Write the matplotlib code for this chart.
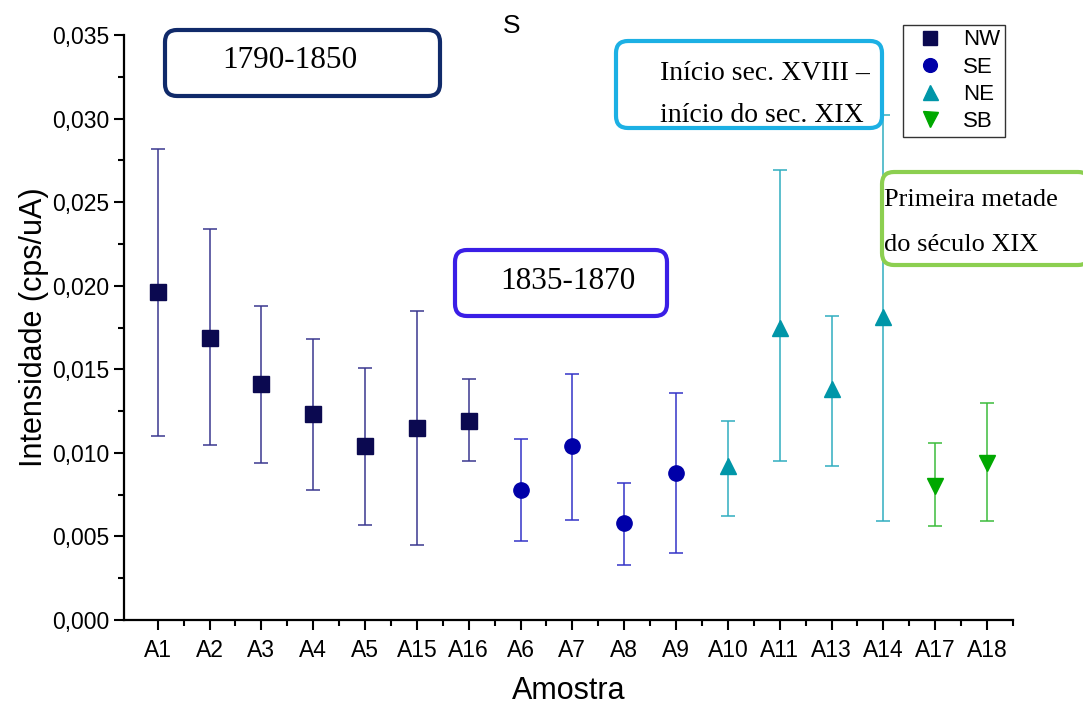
import matplotlib
matplotlib.use("Agg")
import matplotlib.pyplot as plt
import numpy as np
from matplotlib.patches import FancyBboxPatch
from matplotlib.transforms import IdentityTransform
from matplotlib.ticker import FixedLocator, FuncFormatter, MultipleLocator

plt.rcParams['font.family'] = ['Liberation Sans', 'DejaVu Sans']

# ---- data ----
samples = ["A1", "A2", "A3", "A4", "A5", "A15", "A16", "A6", "A7", "A8", "A9",
           "A10", "A11", "A13", "A14", "A17", "A18"]
groups = ["NW", "NW", "NW", "NW", "NW", "NW", "NW", "SE", "SE", "SE", "SE",
          "NE", "NE", "NE", "NE", "SB", "SB"]
means = [0.0196, 0.0169, 0.0141, 0.0123, 0.0104, 0.0115, 0.0119, 0.0078, 0.0104, 0.0058, 0.0088,
         0.0092, 0.0175, 0.0138, 0.0181, 0.0080, 0.0094]
upper = [0.0282, 0.0234, 0.0188, 0.0168, 0.0151, 0.0185, 0.0144, 0.0108, 0.0147, 0.0082, 0.0136,
         0.0119, 0.0269, 0.0182, 0.0302, 0.0106, 0.0130]
lower = [0.0110, 0.0105, 0.0094, 0.0078, 0.0057, 0.0045, 0.0095, 0.0047, 0.0060, 0.0033, 0.0040,
         0.0062, 0.0095, 0.0092, 0.0059, 0.0056, 0.0059]

group_names = ["NW", "SE", "NE", "SB"]
group_markers = {"NW": "s", "SE": "o", "NE": "^", "SB": "v"}
group_colors = {"NW": "#0b0950", "SE": "#0000a8", "NE": "#0096a8", "SB": "#00a800"}
err_colors = {"NW": "#3a3890", "SE": "#3434c8", "NE": "#30aec0", "SB": "#3cbc3c"}
marker_sizes = {"NW": 11, "SE": 11, "NE": 12, "SB": 12}

W, H = 1083, 709
fig = plt.figure(figsize=(W / 100, H / 100), dpi=100)
ax = fig.add_axes([124 / W, 1 - 620 / H, (1013 - 124) / W, (620 - 35) / H])

x = np.arange(len(samples))
means_a = np.array(means)
up_a = np.array(upper)
lo_a = np.array(lower)
for g in group_names:
    idx = [i for i, gg in enumerate(groups) if gg == g]
    ax.errorbar(x[idx], means_a[idx],
                yerr=[means_a[idx] - lo_a[idx], up_a[idx] - means_a[idx]],
                fmt='none', ecolor=err_colors[g], elinewidth=1.1, capsize=5, capthick=1.1, zorder=2)
    ax.plot(x[idx], means_a[idx], linestyle='none', marker=group_markers[g],
            markersize=marker_sizes[g], color=group_colors[g], markeredgecolor=group_colors[g],
            label=g, zorder=3)

ax.set_xlim(-0.65, 16.5)
ax.set_ylim(0, 0.035)
ax.set_xticks(x)
ax.set_xticklabels(samples)
ax.xaxis.set_minor_locator(FixedLocator(np.arange(0.5, 16.6, 1.0)))
ax.yaxis.set_major_locator(MultipleLocator(0.005))
ax.yaxis.set_minor_locator(MultipleLocator(0.0025))
ax.yaxis.set_major_formatter(FuncFormatter(lambda v, p: f"{v:.3f}".replace(".", ",")))
ax.tick_params(axis='both', which='major', direction='out', length=7, width=1.5, labelsize=16.5)
ax.tick_params(axis='x', which='major', pad=7)
ax.tick_params(axis='both', which='minor', direction='out', length=4, width=1.5)
for s in ['top', 'right']:
    ax.spines[s].set_visible(False)
for s in ['left', 'bottom']:
    ax.spines[s].set_linewidth(1.6)

ax.set_ylabel("Intensidade (cps/uA)", fontsize=22, labelpad=2)
ax.set_xlabel("Amostra", fontsize=22, labelpad=10)
fig.text(512 / W, 1 - 26 / H, "S", fontsize=19, ha='center', va='center')

# ---- annotation boxes in pixel coordinates ----
ident = IdentityTransform()

def box(x0, y0, x1, y1, color, lw=3.0, r=12):
    p = FancyBboxPatch((x0, H - y1), x1 - x0, y1 - y0,
                       boxstyle=f"round,pad=0,rounding_size={r}",
                       transform=ident, facecolor='white', edgecolor=color,
                       linewidth=lw, zorder=5)
    fig.patches.append(p)

def ptext(xp, yp, s, size, ha='left'):
    fig.text(xp / W, 1 - yp / H, s, fontsize=size, family=['Liberation Serif', 'DejaVu Serif'],
             ha=ha, va='center', zorder=6)

box(165, 30, 440, 96, "#102a6a")
ptext(290, 61, "1790-1850", 22.5, ha='center')

box(455, 250, 667, 316, "#3a1ee6")
ptext(568, 281, "1835-1870", 22.5, ha='center')

box(616, 41, 882, 128, "#1cb0e4")
ptext(660, 73, "Início sec. XVIII –", 20)
ptext(660, 116, "início do sec. XIX", 20)

box(882, 172, 1090, 265, "#8ccf50")
ptext(884, 200, "Primeira metade", 19)
ptext(884, 245, "do século XIX", 19)

# ---- legend ----
leg = ax.legend(loc='upper left', bbox_to_anchor=(903 / W, 1 - 25 / H),
                bbox_transform=fig.transFigure, fontsize=16, frameon=True,
                fancybox=False, edgecolor='black', borderpad=0.2, handlelength=2.0,
                handletextpad=0.5, labelspacing=0.28, borderaxespad=0, markerscale=0.9)
leg.get_frame().set_linewidth(1.0)
leg.set_zorder(7)

fig.savefig("out.png", dpi=100)
